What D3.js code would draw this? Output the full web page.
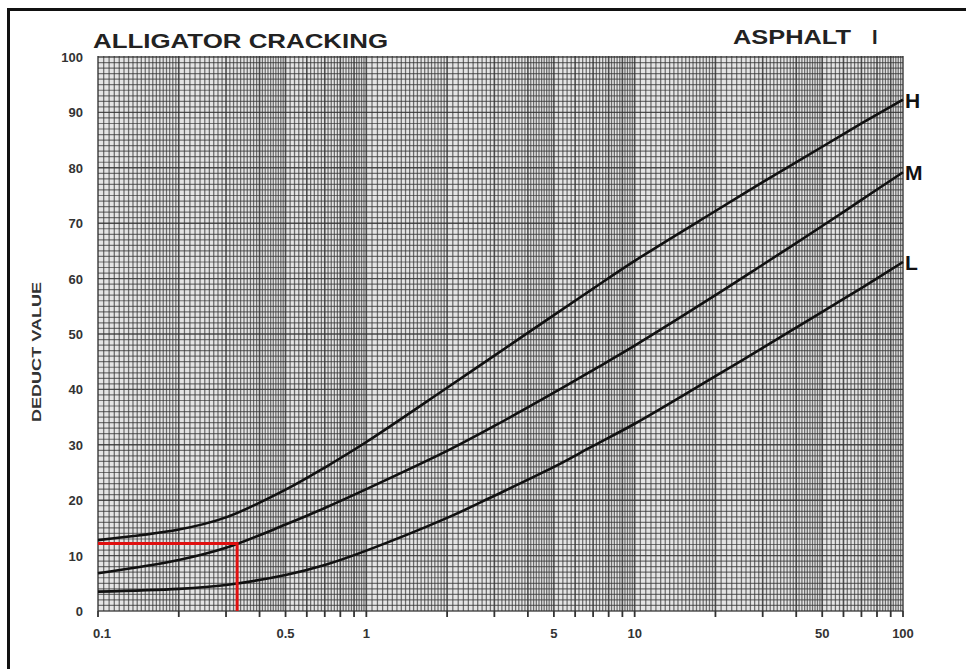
<!DOCTYPE html>
<html>
<head>
<meta charset="utf-8">
<script src="https://cdn.jsdelivr.net/npm/d3@7"></script>
<style>
  body { margin: 0; background: #fff; }
  svg { display: block; }
  text { font-family: "Liberation Sans", "DejaVu Sans", Arial, sans-serif; font-weight: bold; }
</style>
</head>
<body>
<svg id="chart"></svg>
<script>
"use strict";

// deduct value curves
const areaPct = [0.1, 0.2, 0.3, 0.5, 0.7, 1, 2, 3, 5, 7, 10, 20, 30, 50, 70, 100];
const highDV   = [12.8, 14.7, 16.9, 21.9, 25.9, 30.5, 40.3, 46.1, 53.4, 58.2, 63.2, 72.2, 77.4, 83.8, 88.0, 92.3];
const mediumDV = [6.8, 9.2, 11.4, 15.6, 18.6, 22.0, 28.9, 33.4, 39.4, 43.5, 47.9, 57.0, 62.5, 69.5, 74.2, 79.2];
const lowDV    = [3.5, 4.0, 4.7, 6.5, 8.3, 10.9, 16.8, 20.8, 26.0, 29.8, 33.8, 42.4, 47.5, 54.0, 58.3, 63.0];
const severity = ["H", "M", "L"];

// red reading lines
const readArea = 0.33;
const readDV = 12.2;

const xTickLabels = [0.1, 0.5, 1, 5, 10, 50, 100];
const yTickLabels = [0, 10, 20, 30, 40, 50, 60, 70, 80, 90, 100];

// globals
let width = 966, height = 669;
let plot = {left: 98, right: 903, top: 57, bottom: 611};

let svg = d3.select("#chart")
  .attr("width", width)
  .attr("height", height);

svg.append("rect").attr("width", width).attr("height", height).attr("fill", "#fff");

let x = d3.scaleLog().domain([0.1, 100]).range([plot.left, plot.right]);
let y = d3.scaleLinear().domain([0, 100]).range([plot.bottom, plot.top]);

// log paper grid: 1-2 by .05, 2-5 by .1, 5-10 by .2
let vLines = [];
[0.1, 1, 10].forEach(dec => {
  for (let i = 100; i < 200; i += 5) vLines.push({v: i / 100 * dec, major: i % 100 == 0});
  for (let i = 20; i < 50; i += 1) vLines.push({v: i / 10 * dec, major: i % 10 == 0});
  for (let i = 50; i < 100; i += 2) vLines.push({v: i / 10 * dec, major: i % 10 == 0});
});
vLines.push({v: 100, major: true});

let grid = svg.append("g").attr("id", "grid");

grid.append("rect")
  .attr("x", plot.left).attr("y", plot.top - 1)
  .attr("width", plot.right - plot.left).attr("height", plot.bottom - plot.top + 1)
  .attr("fill", "#e4e4e4");

grid.selectAll("line.h")
  .data(d3.range(0, 101))
  .join("line")
  .attr("class", "h")
  .attr("x1", plot.left).attr("x2", plot.right)
  .attr("y1", d => y(d)).attr("y2", d => y(d))
  .attr("stroke", "#333")
  .attr("stroke-opacity", d => d % 10 == 0 ? 0.85 : 0.66)
  .attr("stroke-width", d => d % 10 == 0 ? 1.4 : 1.2);

grid.selectAll("line.v")
  .data(vLines)
  .join("line")
  .attr("class", "v")
  .attr("x1", d => x(d.v)).attr("x2", d => x(d.v))
  .attr("y1", plot.top - 1).attr("y2", plot.bottom)
  .attr("stroke", "#333")
  .attr("stroke-opacity", d => d.major ? 0.85 : 0.68)
  .attr("stroke-width", d => d.major ? 1.6 : 1.25);

// bottom ticks at each integer step of every decade
let tickVals = vLines.filter(d => d.major).map(d => d.v);
svg.append("g")
  .selectAll("line")
  .data(tickVals)
  .join("line")
  .attr("x1", d => x(d)).attr("x2", d => x(d))
  .attr("y1", plot.bottom).attr("y2", plot.bottom + 6)
  .attr("stroke", "#333")
  .attr("stroke-width", 1.8);

// axis labels
svg.append("g")
  .selectAll("text")
  .data(xTickLabels)
  .join("text")
  .attr("x", d => x(d) + (d == 0.1 ? 4 : 0))
  .attr("y", 638)
  .attr("text-anchor", "middle")
  .attr("font-size", 13)
  .attr("fill", "#333")
  .text(d => d);

svg.append("g")
  .selectAll("text")
  .data(yTickLabels)
  .join("text")
  .attr("x", 83)
  .attr("y", d => y(d) + 5)
  .attr("text-anchor", "end")
  .attr("font-size", 13)
  .attr("fill", "#333")
  .text(d => d);

svg.append("text")
  .attr("transform", "translate(41,352) rotate(-90)")
  .attr("text-anchor", "middle")
  .attr("font-size", 13)
  .attr("fill", "#333")
  .attr("textLength", 140)
  .attr("lengthAdjust", "spacingAndGlyphs")
  .text("DEDUCT VALUE");

// titles
svg.append("text")
  .attr("x", 93).attr("y", 48)
  .attr("font-size", 20)
  .attr("fill", "#222")
  .attr("textLength", 295)
  .attr("lengthAdjust", "spacingAndGlyphs")
  .text("ALLIGATOR CRACKING");

svg.append("text")
  .attr("x", 733).attr("y", 44)
  .attr("font-size", 20)
  .attr("fill", "#222")
  .attr("textLength", 118)
  .attr("lengthAdjust", "spacingAndGlyphs")
  .text("ASPHALT");

svg.append("text")
  .attr("x", 872).attr("y", 44)
  .attr("font-size", 20)
  .attr("fill", "#222")
  .text("I");

// curves
let series = [highDV, mediumDV, lowDV];
let line = d3.line()
  .x((d, i) => x(areaPct[i]))
  .y(d => y(d))
  .curve(d3.curveCatmullRom.alpha(0.5));

svg.append("g")
  .selectAll("path")
  .data(series)
  .join("path")
  .attr("d", line)
  .attr("fill", "none")
  .attr("stroke", "#111")
  .attr("stroke-width", 2.6);

svg.append("g")
  .selectAll("text")
  .data(series)
  .join("text")
  .attr("x", plot.right + 2)
  .attr("y", d => y(d[d.length - 1]) + 8)
  .attr("font-size", 21)
  .attr("fill", "#111")
  .text((d, i) => severity[i]);

// red reading
svg.append("path")
  .attr("d", `M${x(0.1)},${y(readDV)} H${x(readArea)} V${y(0)}`)
  .attr("fill", "none")
  .attr("stroke", "#e01010")
  .attr("stroke-width", 3);

// frame (top and left edges visible)
svg.append("path")
  .attr("d", `M8.5,${height} V9.5 H${width}`)
  .attr("fill", "none")
  .attr("stroke", "#111")
  .attr("stroke-width", 3);
</script>
</body>
</html>
